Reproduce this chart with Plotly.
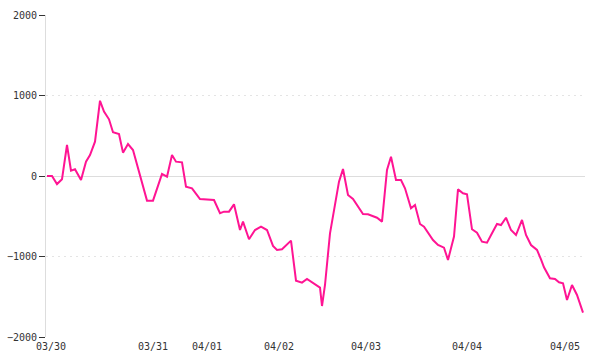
import plotly.graph_objects as go

# positions along the time axis and values
pos = [1, 6, 11, 16, 21, 22, 25, 29, 35, 40, 44, 49, 54, 58, 63, 67, 73, 77, 82, 87, 94,
       101, 107, 116, 121, 126, 130, 136, 140, 146, 154, 162, 168, 174, 178, 183, 188, 194,
       197, 203, 209, 215, 221, 227, 231, 236, 245, 250, 256, 261, 267, 274, 276, 279, 284,
       289, 293, 297, 302, 307, 312, 317, 322, 331, 336, 341, 345, 350, 355, 359, 365, 369,
       374, 378, 387, 392, 398, 402, 408, 412, 417, 421, 426, 431, 436, 441, 446, 451, 455,
       460, 465, 470, 476, 480, 485, 491, 495, 498, 504, 509, 513, 517, 521, 526, 531, 537]
vals = [0, 0, -100, -40, 385, 300, 66, 83, -50, 178, 260, 426, 935, 800, 704, 543, 522, 290,
        397, 323, -8, -306, -306, 25, -8, 260, 178, 170, -132, -153, -286, -298, -298, -463,
        -443, -443, -352, -671, -567, -786, -671, -629, -671, -869, -919, -911, -803, -1300,
        -1325, -1280, -1333, -1387, -1615, -1354, -712, -360, -70, 87, -236, -286, -373,
        -472, -476, -518, -567, 75, 240, -50, -50, -153, -401, -360, -596, -629, -795, -857,
        -890, -1043, -753, -166, -215, -227, -662, -704, -816, -828, -712, -596, -609, -518,
        -671, -733, -546, -733, -857, -919, -1035, -1134, -1271, -1280, -1321, -1333, -1540,
        -1354, -1478, -1698, -1780]

tick_pos = [5, 107, 161, 233, 320, 421, 519]
tick_text = ["03/30", "03/31", "04/01", "04/02", "04/03", "04/04", "04/05"]
y_ticks = [-2000, -1000, 0, 1000, 2000]

fig = go.Figure()
fig.add_trace(go.Scatter(x=pos, y=vals, mode="lines",
                         line=dict(color="#ff1493", width=2), hoverinfo="skip"))

font = dict(family="DejaVu Sans Mono", size=10, color="#333")
fig.update_layout(
    width=600, height=360,
    margin=dict(l=46, r=15, t=15, b=23),
    plot_bgcolor="white", paper_bgcolor="white",
    showlegend=False,
    font=font,
    xaxis=dict(range=[0, 539], tickmode="array", tickvals=tick_pos, ticktext=tick_text,
               showgrid=False, zeroline=False, showline=False, ticks="",
               tickfont=font, ticklabelstandoff=2, automargin=False),
    yaxis=dict(range=[-2000, 2000], tickmode="array", tickvals=y_ticks,
               showgrid=True, gridcolor="#e4e4e4", griddash="2px,4px", gridwidth=1,
               zeroline=True, zerolinecolor="#dddddd", zerolinewidth=1,
               showline=True, linecolor="#dddddd", linewidth=1,
               ticks="outside", ticklen=6, tickcolor="#333", tickwidth=1,
               tickfont=font, automargin=False),
)
fig.write_html("out.html")
